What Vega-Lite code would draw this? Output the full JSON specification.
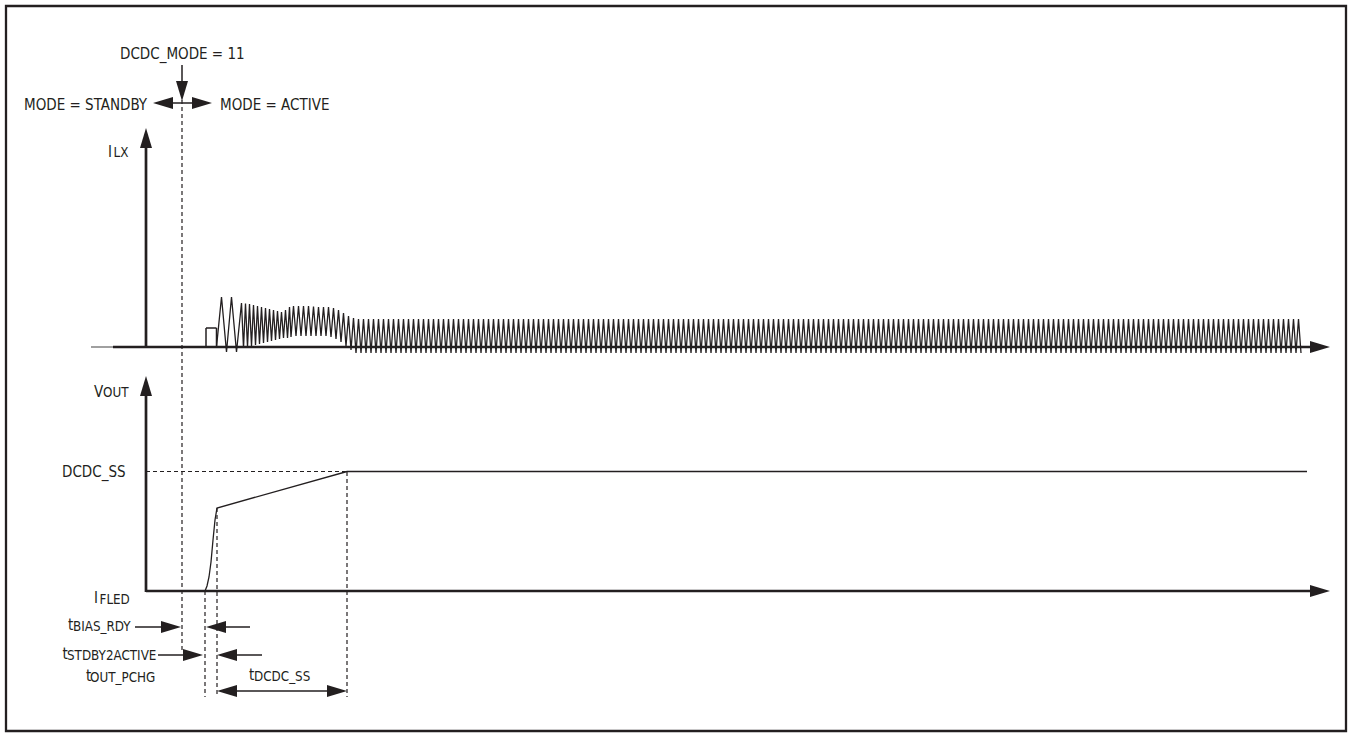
{
"$schema": "https://vega.github.io/schema/vega-lite/v6.json",
"width": 1350, "height": 736,
"autosize": {"type": "fit", "contains": "padding"},
"padding": 0,
"background": "white",
"config": {"view": {"stroke": null}, "text": {"font": "DejaVu Sans Condensed, Liberation Sans Narrow, sans-serif"}},
"datasets": {
"border": [{"x": 6, "y": 6, "x2": 1346, "y2": 731}],
"thick": [
{"x": 146, "y": 140, "x2": 146, "y2": 348},
{"x": 113, "y": 347, "x2": 1315, "y2": 347},
{"x": 146, "y": 390, "x2": 146, "y2": 592},
{"x": 146, "y": 591, "x2": 1315, "y2": 591}
],
"grey": [{"x": 91, "y": 347, "x2": 113, "y2": 347}],
"thin": [
{"x": 182, "y": 65, "x2": 182, "y2": 90},
{"x": 160, "y": 103, "x2": 205, "y2": 103},
{"x": 135, "y": 627, "x2": 170, "y2": 627},
{"x": 215, "y": 627, "x2": 250, "y2": 627},
{"x": 158, "y": 655, "x2": 192, "y2": 655},
{"x": 228, "y": 655, "x2": 262, "y2": 655},
{"x": 225, "y": 691, "x2": 340, "y2": 691},
{"x": 206, "y": 328, "x2": 206, "y2": 347},
{"x": 206, "y": 328, "x2": 216.5, "y2": 328},
{"x": 216.5, "y": 328, "x2": 216.5, "y2": 347}
],
"dashed": [
{"x": 182, "y": 100, "x2": 182, "y2": 652},
{"x": 205, "y": 591, "x2": 205, "y2": 697},
{"x": 217, "y": 508, "x2": 217, "y2": 697},
{"x": 347, "y": 472, "x2": 347, "y2": 697},
{"x": 146, "y": 471.5, "x2": 347, "y2": 471.5}
],
"heads": [
{"x": 146, "y": 128, "dir": "up"},
{"x": 1330, "y": 347, "dir": "right"},
{"x": 146, "y": 376, "dir": "up"},
{"x": 1330, "y": 591, "dir": "right"},
{"x": 182, "y": 101, "dir": "down"},
{"x": 153, "y": 103, "dir": "left"},
{"x": 212, "y": 103, "dir": "right"},
{"x": 181, "y": 627, "dir": "right"},
{"x": 206, "y": 627, "dir": "left"},
{"x": 203, "y": 655, "dir": "right"},
{"x": 217, "y": 655, "dir": "left"},
{"x": 217, "y": 691, "dir": "left"},
{"x": 347, "y": 691, "dir": "right"}
],
"vout": [
{"x": 205, "y": 591}, {"x": 207, "y": 586}, {"x": 209, "y": 577}, {"x": 211, "y": 562}, {"x": 213, "y": 540}, {"x": 215, "y": 520}, {"x": 217, "y": 508}, {"x": 347, "y": 471.5}, {"x": 1307, "y": 471.5}
],
"main": [
{"x": 120, "y": 58.5, "label": "DCDC_MODE = 11"},
{"x": 24, "y": 109.5, "label": "MODE = STANDBY"},
{"x": 220, "y": 109.5, "label": "MODE = ACTIVE"},
{"x": 108, "y": 156.5, "label": "I"},
{"x": 94, "y": 396.5, "label": "V"},
{"x": 62, "y": 476.5, "label": "DCDC_SS"},
{"x": 94, "y": 602.5, "label": "I"},
{"x": 68, "y": 630, "label": "t"},
{"x": 62.5, "y": 659, "label": "t"},
{"x": 86, "y": 681, "label": "t"},
{"x": 249, "y": 680, "label": "t"}
],
"sub": [
{"x": 113.5, "y": 157, "label": "LX"},
{"x": 103, "y": 397, "label": "OUT"},
{"x": 99.5, "y": 604, "label": "FLED"},
{"x": 73, "y": 631, "label": "BIAS_RDY"},
{"x": 67, "y": 660, "label": "STDBY2ACTIVE"},
{"x": 90, "y": 682, "label": "OUT_PCHG"},
{"x": 254, "y": 681, "label": "DCDC_SS"}
],
"ilx": [
{"x":216.5,"y":347},{"x":221.5,"y":297},{"x":226.5,"y":352},{"x":231.5,"y":297},{"x":236.5,"y":352},{"x":241.5,"y":303},
{"x":243.5,"y":348},{"x":245.5,"y":303.5},{"x":247.5,"y":347},{"x":249.5,"y":304},{"x":251.5,"y":346},{"x":253.5,"y":305},
{"x":255.5,"y":345},{"x":257.5,"y":306},{"x":259.5,"y":344},{"x":261.5,"y":307},{"x":263.5,"y":343},{"x":265.5,"y":308},
{"x":267.5,"y":342},{"x":269.5,"y":309},{"x":271.5,"y":341},{"x":273.5,"y":310},{"x":275.5,"y":340},{"x":277.5,"y":311},
{"x":279.5,"y":339},{"x":281.5,"y":312},{"x":283.5,"y":338},{"x":285.5,"y":310},{"x":287.5,"y":338},{"x":289.5,"y":307},
{"x":291,"y":337},{"x":293.5,"y":306},{"x":296,"y":336},{"x":298.5,"y":306},{"x":301,"y":336},{"x":303.5,"y":306},
{"x":306,"y":336},{"x":308.5,"y":306},{"x":311,"y":336},{"x":313.5,"y":306.5},{"x":316,"y":336},{"x":318.5,"y":307},
{"x":321,"y":336},{"x":323.5,"y":307},{"x":326,"y":336},{"x":328.5,"y":307},{"x":331,"y":337},{"x":333.5,"y":308},
{"x":336,"y":339},{"x":338.5,"y":310},{"x":341,"y":342},{"x":343.5,"y":313},{"x":346,"y":346},{"x":348.5,"y":316},
{"x":351,"y":350},{"x":353.5,"y":318},
{"x":356,"y":353},{"x":358.5,"y":319},
{"x":361,"y":353},{"x":363.5,"y":319},{"x":366,"y":353},{"x":368.5,"y":319},
{"x":371,"y":353},{"x":373.5,"y":319},{"x":376,"y":353},{"x":378.5,"y":319},
{"x":381,"y":353},{"x":383.5,"y":319},{"x":386,"y":353},{"x":388.5,"y":319},
{"x":391,"y":353},{"x":393.5,"y":319},{"x":396,"y":353},{"x":398.5,"y":319},
{"x":401,"y":353},{"x":403.5,"y":319},{"x":406,"y":353},{"x":408.5,"y":319},
{"x":411,"y":353},{"x":413.5,"y":319},{"x":416,"y":353},{"x":418.5,"y":319},
{"x":421,"y":353},{"x":423.5,"y":319},{"x":426,"y":353},{"x":428.5,"y":319},
{"x":431,"y":353},{"x":433.5,"y":319},{"x":436,"y":353},{"x":438.5,"y":319},
{"x":441,"y":353},{"x":443.5,"y":319},{"x":446,"y":353},{"x":448.5,"y":319},
{"x":451,"y":353},{"x":453.5,"y":319},{"x":456,"y":353},{"x":458.5,"y":319},
{"x":461,"y":353},{"x":463.5,"y":319},{"x":466,"y":353},{"x":468.5,"y":319},
{"x":471,"y":353},{"x":473.5,"y":319},{"x":476,"y":353},{"x":478.5,"y":319},
{"x":481,"y":353},{"x":483.5,"y":319},{"x":486,"y":353},{"x":488.5,"y":319},
{"x":491,"y":353},{"x":493.5,"y":319},{"x":496,"y":353},{"x":498.5,"y":319},
{"x":501,"y":353},{"x":503.5,"y":319},{"x":506,"y":353},{"x":508.5,"y":319},
{"x":511,"y":353},{"x":513.5,"y":319},{"x":516,"y":353},{"x":518.5,"y":319},
{"x":521,"y":353},{"x":523.5,"y":319},{"x":526,"y":353},{"x":528.5,"y":319},
{"x":531,"y":353},{"x":533.5,"y":319},{"x":536,"y":353},{"x":538.5,"y":319},
{"x":541,"y":353},{"x":543.5,"y":319},{"x":546,"y":353},{"x":548.5,"y":319},
{"x":551,"y":353},{"x":553.5,"y":319},{"x":556,"y":353},{"x":558.5,"y":319},
{"x":561,"y":353},{"x":563.5,"y":319},{"x":566,"y":353},{"x":568.5,"y":319},
{"x":571,"y":353},{"x":573.5,"y":319},{"x":576,"y":353},{"x":578.5,"y":319},
{"x":581,"y":353},{"x":583.5,"y":319},{"x":586,"y":353},{"x":588.5,"y":319},
{"x":591,"y":353},{"x":593.5,"y":319},{"x":596,"y":353},{"x":598.5,"y":319},
{"x":601,"y":353},{"x":603.5,"y":319},{"x":606,"y":353},{"x":608.5,"y":319},
{"x":611,"y":353},{"x":613.5,"y":319},{"x":616,"y":353},{"x":618.5,"y":319},
{"x":621,"y":353},{"x":623.5,"y":319},{"x":626,"y":353},{"x":628.5,"y":319},
{"x":631,"y":353},{"x":633.5,"y":319},{"x":636,"y":353},{"x":638.5,"y":319},
{"x":641,"y":353},{"x":643.5,"y":319},{"x":646,"y":353},{"x":648.5,"y":319},
{"x":651,"y":353},{"x":653.5,"y":319},{"x":656,"y":353},{"x":658.5,"y":319},
{"x":661,"y":353},{"x":663.5,"y":319},{"x":666,"y":353},{"x":668.5,"y":319},
{"x":671,"y":353},{"x":673.5,"y":319},{"x":676,"y":353},{"x":678.5,"y":319},
{"x":681,"y":353},{"x":683.5,"y":319},{"x":686,"y":353},{"x":688.5,"y":319},
{"x":691,"y":353},{"x":693.5,"y":319},{"x":696,"y":353},{"x":698.5,"y":319},
{"x":701,"y":353},{"x":703.5,"y":319},{"x":706,"y":353},{"x":708.5,"y":319},
{"x":711,"y":353},{"x":713.5,"y":319},{"x":716,"y":353},{"x":718.5,"y":319},
{"x":721,"y":353},{"x":723.5,"y":319},{"x":726,"y":353},{"x":728.5,"y":319},
{"x":731,"y":353},{"x":733.5,"y":319},{"x":736,"y":353},{"x":738.5,"y":319},
{"x":741,"y":353},{"x":743.5,"y":319},{"x":746,"y":353},{"x":748.5,"y":319},
{"x":751,"y":353},{"x":753.5,"y":319},{"x":756,"y":353},{"x":758.5,"y":319},
{"x":761,"y":353},{"x":763.5,"y":319},{"x":766,"y":353},{"x":768.5,"y":319},
{"x":771,"y":353},{"x":773.5,"y":319},{"x":776,"y":353},{"x":778.5,"y":319},
{"x":781,"y":353},{"x":783.5,"y":319},{"x":786,"y":353},{"x":788.5,"y":319},
{"x":791,"y":353},{"x":793.5,"y":319},{"x":796,"y":353},{"x":798.5,"y":319},
{"x":801,"y":353},{"x":803.5,"y":319},{"x":806,"y":353},{"x":808.5,"y":319},
{"x":811,"y":353},{"x":813.5,"y":319},{"x":816,"y":353},{"x":818.5,"y":319},
{"x":821,"y":353},{"x":823.5,"y":319},{"x":826,"y":353},{"x":828.5,"y":319},
{"x":831,"y":353},{"x":833.5,"y":319},{"x":836,"y":353},{"x":838.5,"y":319},
{"x":841,"y":353},{"x":843.5,"y":319},{"x":846,"y":353},{"x":848.5,"y":319},
{"x":851,"y":353},{"x":853.5,"y":319},{"x":856,"y":353},{"x":858.5,"y":319},
{"x":861,"y":353},{"x":863.5,"y":319},{"x":866,"y":353},{"x":868.5,"y":319},
{"x":871,"y":353},{"x":873.5,"y":319},{"x":876,"y":353},{"x":878.5,"y":319},
{"x":881,"y":353},{"x":883.5,"y":319},{"x":886,"y":353},{"x":888.5,"y":319},
{"x":891,"y":353},{"x":893.5,"y":319},{"x":896,"y":353},{"x":898.5,"y":319},
{"x":901,"y":353},{"x":903.5,"y":319},{"x":906,"y":353},{"x":908.5,"y":319},
{"x":911,"y":353},{"x":913.5,"y":319},{"x":916,"y":353},{"x":918.5,"y":319},
{"x":921,"y":353},{"x":923.5,"y":319},{"x":926,"y":353},{"x":928.5,"y":319},
{"x":931,"y":353},{"x":933.5,"y":319},{"x":936,"y":353},{"x":938.5,"y":319},
{"x":941,"y":353},{"x":943.5,"y":319},{"x":946,"y":353},{"x":948.5,"y":319},
{"x":951,"y":353},{"x":953.5,"y":319},{"x":956,"y":353},{"x":958.5,"y":319},
{"x":961,"y":353},{"x":963.5,"y":319},{"x":966,"y":353},{"x":968.5,"y":319},
{"x":971,"y":353},{"x":973.5,"y":319},{"x":976,"y":353},{"x":978.5,"y":319},
{"x":981,"y":353},{"x":983.5,"y":319},{"x":986,"y":353},{"x":988.5,"y":319},
{"x":991,"y":353},{"x":993.5,"y":319},{"x":996,"y":353},{"x":998.5,"y":319},
{"x":1001,"y":353},{"x":1003.5,"y":319},{"x":1006,"y":353},{"x":1008.5,"y":319},
{"x":1011,"y":353},{"x":1013.5,"y":319},{"x":1016,"y":353},{"x":1018.5,"y":319},
{"x":1021,"y":353},{"x":1023.5,"y":319},{"x":1026,"y":353},{"x":1028.5,"y":319},
{"x":1031,"y":353},{"x":1033.5,"y":319},{"x":1036,"y":353},{"x":1038.5,"y":319},
{"x":1041,"y":353},{"x":1043.5,"y":319},{"x":1046,"y":353},{"x":1048.5,"y":319},
{"x":1051,"y":353},{"x":1053.5,"y":319},{"x":1056,"y":353},{"x":1058.5,"y":319},
{"x":1061,"y":353},{"x":1063.5,"y":319},{"x":1066,"y":353},{"x":1068.5,"y":319},
{"x":1071,"y":353},{"x":1073.5,"y":319},{"x":1076,"y":353},{"x":1078.5,"y":319},
{"x":1081,"y":353},{"x":1083.5,"y":319},{"x":1086,"y":353},{"x":1088.5,"y":319},
{"x":1091,"y":353},{"x":1093.5,"y":319},{"x":1096,"y":353},{"x":1098.5,"y":319},
{"x":1101,"y":353},{"x":1103.5,"y":319},{"x":1106,"y":353},{"x":1108.5,"y":319},
{"x":1111,"y":353},{"x":1113.5,"y":319},{"x":1116,"y":353},{"x":1118.5,"y":319},
{"x":1121,"y":353},{"x":1123.5,"y":319},{"x":1126,"y":353},{"x":1128.5,"y":319},
{"x":1131,"y":353},{"x":1133.5,"y":319},{"x":1136,"y":353},{"x":1138.5,"y":319},
{"x":1141,"y":353},{"x":1143.5,"y":319},{"x":1146,"y":353},{"x":1148.5,"y":319},
{"x":1151,"y":353},{"x":1153.5,"y":319},{"x":1156,"y":353},{"x":1158.5,"y":319},
{"x":1161,"y":353},{"x":1163.5,"y":319},{"x":1166,"y":353},{"x":1168.5,"y":319},
{"x":1171,"y":353},{"x":1173.5,"y":319},{"x":1176,"y":353},{"x":1178.5,"y":319},
{"x":1181,"y":353},{"x":1183.5,"y":319},{"x":1186,"y":353},{"x":1188.5,"y":319},
{"x":1191,"y":353},{"x":1193.5,"y":319},{"x":1196,"y":353},{"x":1198.5,"y":319},
{"x":1201,"y":353},{"x":1203.5,"y":319},{"x":1206,"y":353},{"x":1208.5,"y":319},
{"x":1211,"y":353},{"x":1213.5,"y":319},{"x":1216,"y":353},{"x":1218.5,"y":319},
{"x":1221,"y":353},{"x":1223.5,"y":319},{"x":1226,"y":353},{"x":1228.5,"y":319},
{"x":1231,"y":353},{"x":1233.5,"y":319},{"x":1236,"y":353},{"x":1238.5,"y":319},
{"x":1241,"y":353},{"x":1243.5,"y":319},{"x":1246,"y":353},{"x":1248.5,"y":319},
{"x":1251,"y":353},{"x":1253.5,"y":319},{"x":1256,"y":353},{"x":1258.5,"y":319},
{"x":1261,"y":353},{"x":1263.5,"y":319},{"x":1266,"y":353},{"x":1268.5,"y":319},
{"x":1271,"y":353},{"x":1273.5,"y":319},{"x":1276,"y":353},{"x":1278.5,"y":319},
{"x":1281,"y":353},{"x":1283.5,"y":319},{"x":1286,"y":353},{"x":1288.5,"y":319},
{"x":1291,"y":353},{"x":1293.5,"y":319},{"x":1296,"y":353},{"x":1298.5,"y":319},
{"x":1301,"y":353}
]
},
"encoding": {
"x": {"field": "x", "type": "quantitative", "scale": {"domain": [0, 1350], "nice": false, "zero": false}, "axis": null},
"y": {"field": "y", "type": "quantitative", "scale": {"domain": [0, 736], "nice": false, "zero": false, "reverse": true}, "axis": null}
},
"layer": [
{"data": {"name": "border"}, "mark": {"type": "rect", "filled": false, "stroke": "#231f20", "strokeWidth": 2.3, "fillOpacity": 0}, "encoding": {"x2": {"field": "x2"}, "y2": {"field": "y2"}}},
{"data": {"name": "dashed"}, "mark": {"type": "rule", "stroke": "#231f20", "strokeWidth": 1.2, "strokeDash": [4, 3]}, "encoding": {"x2": {"field": "x2"}, "y2": {"field": "y2"}}},
{"data": {"name": "ilx"}, "mark": {"type": "line", "stroke": "#231f20", "strokeWidth": 1.3, "interpolate": "linear"}, "encoding": {}},
{"data": {"name": "vout"}, "mark": {"type": "line", "stroke": "#231f20", "strokeWidth": 1.3, "interpolate": "linear"}, "encoding": {}},
{"data": {"name": "grey"}, "mark": {"type": "rule", "stroke": "#808080", "strokeWidth": 1.5}, "encoding": {"x2": {"field": "x2"}, "y2": {"field": "y2"}}},
{"data": {"name": "thin"}, "mark": {"type": "rule", "stroke": "#231f20", "strokeWidth": 1.5}, "encoding": {"x2": {"field": "x2"}, "y2": {"field": "y2"}}},
{"data": {"name": "thick"}, "mark": {"type": "rule", "stroke": "#231f20", "strokeWidth": 2.7}, "encoding": {"x2": {"field": "x2"}, "y2": {"field": "y2"}}},
{"data": {"name": "heads"}, "mark": {"type": "point", "filled": true, "fill": "#231f20", "opacity": 1, "strokeWidth": 0, "size": 400},
 "encoding": {"shape": {"field": "dir", "type": "nominal", "legend": null, "scale": {"domain": ["right", "left", "up", "down"], "range": ["M0,0L-2,-0.6L-2,0.6Z", "M0,0L2,-0.6L2,0.6Z", "M0,0L-0.6,2L0.6,2Z", "M0,0L-0.6,-2L0.6,-2Z"]}}}},
{"data": {"name": "main"}, "mark": {"type": "text", "align": "left", "baseline": "alphabetic", "fontSize": 15, "fill": "#231f20"}, "encoding": {"text": {"field": "label"}}},
{"data": {"name": "sub"}, "mark": {"type": "text", "align": "left", "baseline": "alphabetic", "fontSize": 13.3, "fill": "#231f20"}, "encoding": {"text": {"field": "label"}}}
]
}
